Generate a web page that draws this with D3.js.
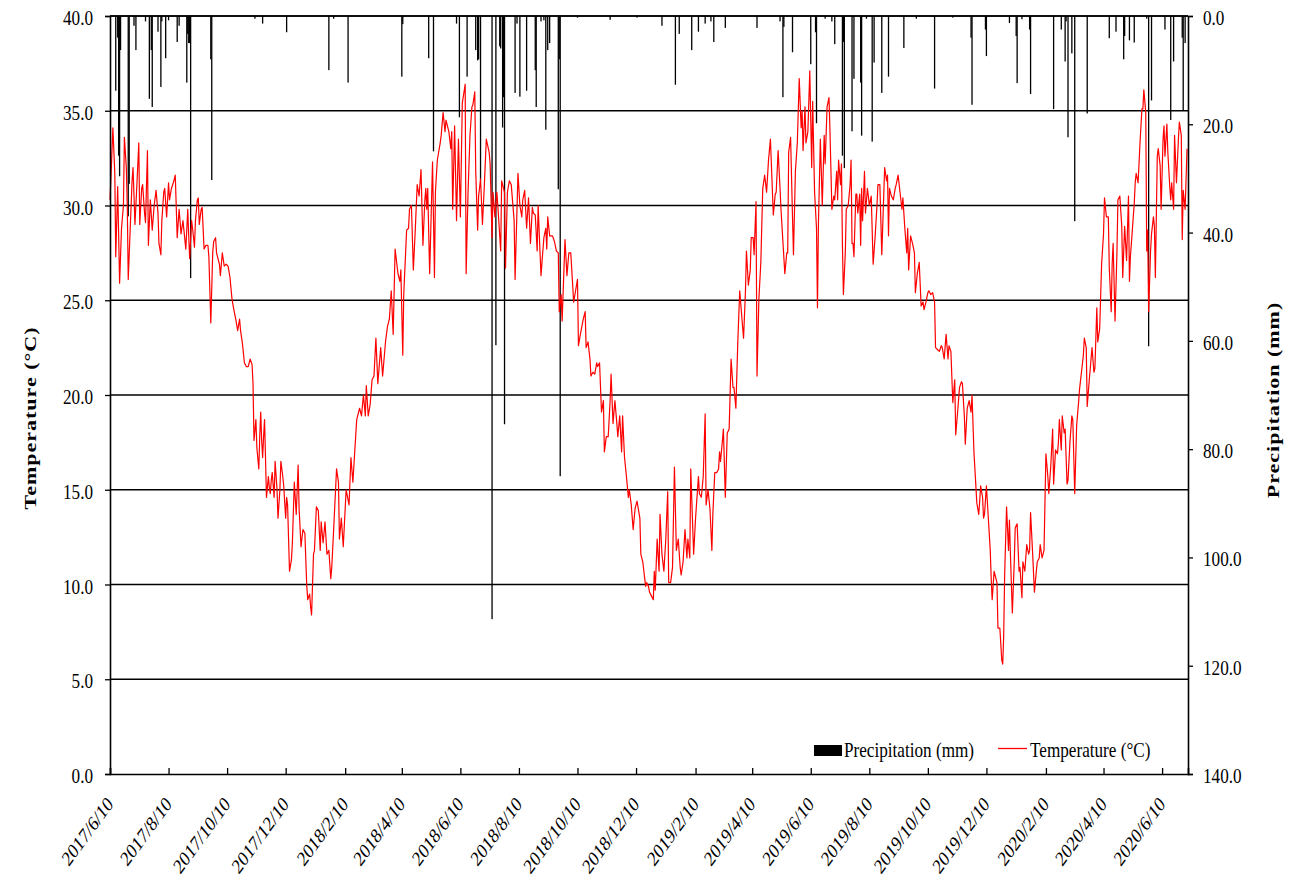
<!DOCTYPE html>
<html>
<head>
<meta charset="utf-8">
<script src="https://cdn.jsdelivr.net/npm/d3@7"></script>
<style>
  body { margin: 0; background: #fff; }
  svg { display: block; }
  text { font-family: "Liberation Serif", "Times New Roman", serif; fill: #000; }
</style>
</head>
<body>
<svg id="chart" width="1291" height="890"></svg>
<script>
// Daily mean temperature: [days after 2017-06-10, °C]
const temperature = [
[0,30.3],[1,31.5],[3,34.1],[5,31.7],[6,27.3],[8,31.0],[10,25.9],[12,28.8],[14,30.0],[15,33.6],[17,32.0],[18,30.0],[19,26.1],[21,28.7],[23,31.3],[24,32.0],[26,29.0],[28,31.1],[30,33.3],[31,29.0],[33,30.9],[34,31.1],[36,29.6],[37,29.1],[39,32.9],[40,27.9],[42,30.3],[44,28.7],[46,30.0],[48,30.8],[50,29.6],[51,28.0],[53,27.4],[54,29.2],[56,30.7],[57,30.9],[59,29.4],[61,31.2],[62,30.3],[64,30.9],[66,31.2],[68,31.6],[70,28.3],[72,29.8],[74,28.5],[76,29.2],[77,28.7],[79,27.7],[81,29.8],[82,28.4],[83,27.2],[85,29.2],[86,28.8],[88,27.8],[89,29.2],[91,30.3],[92,30.4],[93,29.0],[95,29.8],[96,29.9],[98,27.7],[100,27.9],[102,27.9],[103,27.3],[105,23.8],[107,27.5],[108,28.1],[110,28.3],[111,27.5],[114,26.9],[115,26.3],[117,27.5],[119,26.8],[121,26.9],[123,26.8],[125,26.2],[127,25.1],[128,24.8],[129,24.5],[131,24.0],[133,23.4],[135,24.0],[136,23.4],[138,22.7],[140,21.7],[142,21.5],[144,21.5],[146,21.9],[148,21.6],[149,20.6],[150,17.6],[152,18.7],[153,17.2],[155,16.1],[156,17.8],[157,19.1],[158,17.6],[159,16.7],[160,17.8],[161,18.7],[162,16.7],[163,14.6],[165,15.7],[166,15.1],[167,14.8],[168,15.5],[169,15.9],[171,14.6],[172,16.5],[174,15.0],[175,13.5],[177,15.0],[178,16.5],[180,15.7],[181,15.2],[183,13.5],[184,14.6],[185,14.2],
[187,10.7],[189,11.3],[190,12.2],[192,15.4],[194,13.7],[196,16.3],[197,14.0],[199,12.0],[201,12.9],[203,12.7],[205,9.9],[206,9.2],[208,9.5],[209,8.8],[210,8.4],[212,11.6],[213,11.8],[215,14.1],[217,13.9],[219,11.8],[220,13.3],[222,12.2],[224,13.3],[226,11.6],[228,11.8],[230,10.3],[231,10.9],[233,12.9],[236,16.1],[238,15.4],[239,12.4],[241,13.5],[243,12.0],[246,15.0],[249,14.2],[251,16.7],[253,15.4],[257,18.7],[260,19.3],[262,18.9],[264,20.0],[266,18.9],[267,20.5],[269,18.9],[271,19.5],[273,20.8],[275,21.0],[277,23.0],[279,20.6],[282,22.5],[284,21.0],[287,22.8],[289,23.6],[291,24.0],[293,25.5],[295,23.2],[297,27.7],[300,26.4],[302,26.0],[303,26.6],[305,22.1],[306,25.3],[309,28.7],[311,28.8],[312,29.8],[314,30.0],[316,26.6],[318,28.7],[320,31.1],[322,30.5],[324,31.9],[326,27.9],[328,30.3],[329,30.9],[330,29.8],[331,30.9],[333,26.4],[336,32.3],[338,26.2],[339,30.7],[341,32.4],[344,33.3],[345,33.7],[347,34.9],[349,33.9],[350,34.5],[353,33.9],[355,33.0],[356,33.9],[357,29.8],[359,34.2],[361,29.2],[363,33.5],[365,29.4],[367,35.4],[370,36.4],[371,26.4],[373,30.7],[375,33.7],
[377,35.2],[378,35.3],[380,36.0],[381,31.8],[383,28.7],[384,30.5],[386,31.4],[388,29.0],[390,31.1],[392,33.5],[395,32.8],[396,32.2],[398,28.3],[399,30.7],[401,29.4],[403,30.7],[404,30.0],[407,27.6],[408,31.3],[411,30.7],[412,26.7],[414,30.7],[416,31.3],[418,31.1],[421,29.2],[422,26.1],[425,31.7],[427,30.0],[429,29.4],[430,30.3],[432,30.8],[434,28.8],[436,30.4],[438,28.0],[440,29.9],[441,29.6],[443,29.5],[445,27.6],[446,30.0],[448,27.5],[449,26.3],[450,27.0],[452,28.3],[454,28.8],[455,27.7],[456,29.4],[458,28.4],[461,28.4],[463,28.1],[465,27.6],[467,27.5],[468,24.4],[470,25.3],[471,23.9],[474,28.2],[476,26.3],[478,27.5],[480,27.5],[482,25.8],[483,24.9],[485,25.5],[487,26.1],[488,22.6],[490,23.2],[493,24.0],[495,24.4],[496,22.5],[498,22.8],[500,21.9],[501,21.0],[503,21.2],[505,21.1],[507,21.7],[508,21.5],[510,21.7],[512,19.1],[514,19.7],[515,17.0],[517,17.8],[519,17.8],[521,19.7],[522,21.1],[524,18.5],[526,19.7],[528,18.5],[529,17.8],[531,18.9],[533,17.0],[534,18.9],[536,16.7],[538,15.7],[540,14.6],[541,15.0],[543,14.2],[545,12.9],[547,14.0],[549,14.4],[552,13.5],[553,11.6],[555,11.2],[558,9.9],[559,10.1],[561,9.9],
[562,9.6],[564,9.4],[566,9.2],[567,10.7],[568,9.7],[570,12.4],[572,10.7],[573,13.7],[575,11.6],[577,10.7],[579,12.4],[581,14.9],[582,10.1],[584,10.1],[586,10.9],[588,16.2],[590,11.8],[592,12.4],[594,10.9],[595,10.5],[597,11.2],[599,12.9],[601,11.4],[602,12.4],[604,11.4],[605,16.1],[608,11.6],[610,13.5],[613,15.7],[614,14.8],[616,14.6],[618,15.7],[620,19.0],[621,14.2],[623,15.0],[625,14.0],[627,11.8],[628,13.7],[630,15.9],[632,15.9],[634,16.1],[635,17.0],[636,16.5],[638,17.6],[639,18.2],[641,14.6],[643,18.0],[645,18.2],[647,21.9],[649,20.4],[650,20.4],[652,19.3],[654,22.8],[656,25.5],[659,23.6],[660,23.0],[662,25.5],[663,27.6],[665,25.8],[667,26.6],[668,28.3],[670,28.3],[671,27.4],[673,30.2],[674,21.0],[676,25.1],[678,27.0],[680,30.9],[682,31.6],[684,30.7],[686,32.4],[688,33.5],[691,29.5],[693,30.6],[694,30.7],[696,32.9],[698,30.9],[699,29.8],[701,28.1],[703,26.4],[705,27.5],[706,27.5],[707,32.8],[709,33.6],[711,29.4],[712,27.4],[714,31.8],[716,33.3],[718,36.7],[720,34.1],[721,35.0],[722,32.9],[724,35.2],[725,33.3],[727,33.9],[729,37.1],[731,32.0],[732,35.5],[734,30.7],[736,28.8],[737,24.6],[738,29.0],[740,33.5],[741,31.8],[742,30.0],[744,33.7],[745,32.2],[747,35.2],[749,35.7],[750,34.0],
[752,29.8],[754,30.5],[755,30.3],[757,31.8],[758,30.3],[759,32.4],[761,31.1],[762,32.2],[763,27.9],[764,25.3],[766,27.5],[767,29.8],[769,30.0],[771,31.1],[772,32.4],[773,28.0],[774,28.0],[775,27.3],[777,30.6],[778,30.6],[779,29.6],[781,30.6],[782,27.9],[783,30.9],[784,29.2],[786,31.8],[787,29.6],[789,30.9],[790,30.5],[791,30.0],[793,30.5],[795,26.9],[797,28.3],[799,30.0],[800,31.1],[802,31.1],[804,27.4],[806,30.5],[807,32.0],[809,31.3],[810,31.6],[811,28.4],[812,30.9],[814,30.5],[816,30.3],[818,30.9],[819,31.1],[821,31.6],[823,30.7],[825,29.8],[826,30.4],[828,28.8],[830,27.5],[831,28.8],[832,26.6],[834,28.4],[836,28.0],[838,27.5],[839,25.4],[841,26.4],[843,27.0],[845,24.7],[847,24.9],[848,24.5],[850,24.9],[852,25.4],[853,25.5],[855,25.3],[857,25.4],[859,24.9],[860,22.5],[862,22.4],[864,22.3],[866,22.6],[867,22.5],[869,21.9],[871,23.2],[873,21.9],[874,22.6],[876,22.3],[878,19.6],[880,20.8],[881,17.9],[883,19.1],[885,20.4],[887,20.7],[888,20.6],[890,18.9],[891,17.4],[893,19.3],[895,19.7],[897,19.1],[898,20.0],[900,17.0],[901,16.1],[903,14.3],[905,13.7],[906,14.4],[907,15.2],[909,14.6],[910,13.5],[911,13.7],[913,15.2],[915,13.5],[917,11.8],[918,10.3],[919,9.2],[921,10.7],[923,10.3],[924,10.1],[925,7.7],[927,7.7],[929,6.0],[930,5.8],[931,7.3],[932,10.5],[934,14.1],
[936,11.8],[937,13.4],[938,11.6],[940,8.5],[942,11.2],[943,13.0],[945,13.2],[947,10.7],[948,10.9],[950,9.3],[951,11.2],[953,10.7],[955,12.1],[957,11.6],[958,11.8],[959,13.8],[961,11.8],[963,9.6],[965,10.7],[966,11.2],[968,11.4],[969,12.1],[971,11.4],[973,11.8],[975,16.9],[977,15.7],[978,14.8],[980,16.2],[982,18.2],[983,15.3],[985,17.1],[987,16.9],[988,17.5],[989,18.7],[991,17.1],[992,18.9],[994,18.0],[995,18.2],[997,15.3],[998,15.5],[1000,17.5],[1002,18.9],[1003,18.7],[1005,14.8],[1007,18.4],[1009,19.6],[1010,20.3],[1012,21.2],[1014,22.1],[1015,23.0],[1017,22.5],[1018,19.4],[1020,20.7],[1022,21.9],[1023,22.5],[1025,21.2],[1026,21.4],[1028,24.6],[1029,22.8],[1031,23.5],[1033,26.9],[1035,28.5],[1036,30.4],[1038,29.4],[1040,29.4],[1041,26.7],[1043,24.4],[1044,26.9],[1045,28.0],[1047,23.9],[1049,27.6],[1050,30.3],[1052,30.5],[1054,28.9],[1055,26.2],[1057,28.9],[1059,27.1],[1061,30.5],[1062,26.0],[1063,27.3],[1065,28.7],[1067,30.1],[1068,31.2],[1069,31.7],[1071,31.2],[1073,33.3],[1075,35.1],[1076,35.1],[1077,36.1],[1079,34.9],[1080,27.6],[1081,28.7],[1082,24.4],[1084,27.6],[1085,28.5],[1087,29.4],[1088,28.9],[1089,26.2],[1091,32.6],[1092,33.0],[1094,32.1],[1095,29.8],[1097,33.5],[1098,34.2],[1099,32.6],[1101,34.3],[1102,32.8],[1104,31.0],[1105,30.3],[1106,31.2],[1108,29.8],[1109,33.7],[1111,31.2],[1113,33.5],[1114,34.4],[1116,33.7],[1117,28.2],[1118,30.8],[1120,29.8],[1122,33.0]
];

// Daily precipitation: [days after 2017-06-10, mm]
const precipitation = [
[6,13.8],[8,4.0],[9,25.8],[10,29.6],[11,6.3],[19,37.0],[20,31.0],[25,1.8],[27,6.3],[37,1.0],[41,15.3],[43,6.3],[44,16.8],[50,2.9],[53,13.1],[54,1.0],[58,7.8],[61,0.8],[70,4.8],[72,1.8],[80,12.3],[81,3.3],[82,5.0],[83,5.0],[84,48.4],[105,8.0],[106,30.3],[151,0.5],[159,1.4],[184,3.0],
[228,10.0],[233,0.5],[248,12.3],[304,11.2],[305,1.5],[332,7.8],[337,25.0],[361,1.4],[364,18.7],[372,11.2],
[381,6.3],[383,8.2],[384,8.0],[386,30.3],[398,111.4],[402,60.8],[406,5.6],[407,6.0],[409,20.6],[410,15.0],[411,75.4],[422,14.2],[424,1.4],[427,14.9],[434,13.8],[443,10.0],[444,16.8],[449,1.0],[452,0.8],[454,21.0],[456,6.3],[458,5.0],[467,32.0],[468,8.0],[469,85.0],[487,0.3],[521,0.7],[549,0.3],
[575,1.8],[589,12.7],[593,3.3],[606,6.3],[613,2.9],[620,1.4],[626,1.0],[629,4.8],[641,2.2],[674,2.2],[698,1.0],[701,15.0],[702,2.0],[711,6.7],[730,8.9],[735,3.0],[736,19.8],[745,0.5],
[752,1.0],[755,5.2],[763,25.8],[764,4.8],[765,28.1],[773,21.3],[775,11.6],[782,12.3],[783,22.1],[788,0.5],[794,23.2],[796,8.6],[804,14.2],[811,11.2],[827,5.9],[840,0.5],[859,13.4],[878,0.3],[897,4.0],[898,16.4],[912,2.5],[913,7.4],[937,1.3],
[944,3.7],[945,12.4],[950,0.6],[958,2.5],[959,14.4],[983,17.2],[991,2.5],[995,8.4],[996,1.0],[998,22.4],[1002,6.9],[1005,37.9],[1018,18.0],[1041,4.1],[1048,2.9],[1056,8.0],[1057,3.7],[1062,4.5],[1067,4.9],[1080,0.5],[1082,61.0],[1085,15.6],[1099,2.5],[1105,19.2],[1108,8.4],[1117,4.0],[1118,17.5],[1120,5.0]
];

const dateTicks = ["2017/6/10","2017/8/10","2017/10/10","2017/12/10","2018/2/10","2018/4/10","2018/6/10","2018/8/10","2018/10/10","2018/12/10","2019/2/10","2019/4/10","2019/6/10","2019/8/10","2019/10/10","2019/12/10","2020/2/10","2020/4/10","2020/6/10"];
const tempTicks = [0, 5, 10, 15, 20, 25, 30, 35, 40];
const rainTicks = [0, 20, 40, 60, 80, 100, 120, 140];

const svg = d3.select("#chart");
const M = { left: 110, right: 1188, top: 16, bottom: 774 };
const SX = 0.78;                 // horizontal glyph compression used for all lettering
const FONT = 22;

const startDate = new Date(2017, 5, 10);
const endDate = new Date(2020, 6, 7);
const parseTick = d3.timeParse("%Y/%-m/%-d");
const dayToDate = d => d3.timeDay.offset(startDate, d);

const x = d3.scaleTime().domain([startDate, endDate]).range([M.left, M.right]);
const yT = d3.scaleLinear().domain([0, 40]).range([M.bottom, M.top]);
const yP = d3.scaleLinear().domain([0, 140]).range([M.top, M.bottom]);

function label(sel, tx, ty, str, anchor, rot, opts = {}) {
  return sel.append("text")
    .attr("transform", `translate(${tx},${ty}) scale(${SX},1)` + (rot ? ` rotate(${rot})` : ""))
    .attr("text-anchor", anchor)
    .attr("font-size", opts.size || FONT)
    .attr("font-weight", opts.weight || "normal")
    .attr("letter-spacing", opts.spacing || 0)
    .attr("dy", opts.dy || 0)
    .text(str);
}

// horizontal grid at each temperature tick
svg.append("g").selectAll("line")
  .data(tempTicks.filter(t => t > 0))
  .join("line")
  .attr("x1", M.left).attr("x2", M.right)
  .attr("y1", d => yT(d)).attr("y2", d => yT(d))
  .attr("stroke", "#000").attr("stroke-width", 1.4);

// precipitation bars hanging from the top
const barW = 1.3;
svg.append("g").selectAll("rect")
  .data(precipitation)
  .join("rect")
  .attr("x", d => x(dayToDate(d[0])) - barW / 2)
  .attr("y", yP(0))
  .attr("width", barW)
  .attr("height", d => yP(d[1]) - yP(0))
  .attr("fill", "#000");

// temperature line
const line = d3.line()
  .x(d => x(dayToDate(d[0])))
  .y(d => yT(d[1]));
svg.append("path")
  .datum(temperature)
  .attr("d", line)
  .attr("fill", "none")
  .attr("stroke", "#ff0000")
  .attr("stroke-width", 1.2)
  .attr("stroke-linejoin", "round");

// axes
const axL = svg.append("g").attr("transform", `translate(${M.left},0)`)
  .call(d3.axisLeft(yT).tickValues(tempTicks).tickSize(5).tickFormat(""));
const axR = svg.append("g").attr("transform", `translate(${M.right},0)`)
  .call(d3.axisRight(yP).tickValues(rainTicks).tickSize(5).tickFormat(""));
const axB = svg.append("g").attr("transform", `translate(0,${M.bottom})`)
  .call(d3.axisBottom(x).tickValues(dateTicks.map(parseTick)).tickSize(-6).tickFormat(""));
[axL, axR, axB].forEach(g => {
  g.selectAll("path.domain").attr("stroke", "#000").attr("stroke-width", 1.6);
  g.selectAll(".tick line").attr("stroke", "#000").attr("stroke-width", 1.3);
});
// top border
svg.append("line").attr("x1", M.left).attr("x2", M.right)
  .attr("y1", M.top).attr("y2", M.top).attr("stroke", "#000").attr("stroke-width", 1.4);

// tick labels
const labels = svg.append("g");
tempTicks.forEach(t => label(labels, 93, yT(t) + 9, d3.format(".1f")(t), "end"));
rainTicks.forEach(p => label(labels, 1203, yP(p) + 9, d3.format(".1f")(p), "start"));
dateTicks.forEach(s => label(labels, x(parseTick(s)) + 4, 805, s, "end", -47, { size: 21 }));

// axis titles
label(svg, 30, 418, "Temperature  (°C)", "middle", -90, { weight: "bold", spacing: 1, dy: "0.35em" });
label(svg, 1273, 400, "Precipitation  (mm)", "middle", -90, { weight: "bold", spacing: 1, dy: "0.35em" });

// legend
const lg = svg.append("g");
lg.append("rect").attr("x", 814).attr("y", 745).attr("width", 28).attr("height", 11).attr("fill", "#000");
label(lg, 844, 757, "Precipitation (mm)", "start");
lg.append("line").attr("x1", 998).attr("x2", 1027).attr("y1", 748.5).attr("y2", 748.5)
  .attr("stroke", "#ff0000").attr("stroke-width", 1.3);
label(lg, 1030, 757, "Temperature (°C)", "start");
</script>
</body>
</html>
